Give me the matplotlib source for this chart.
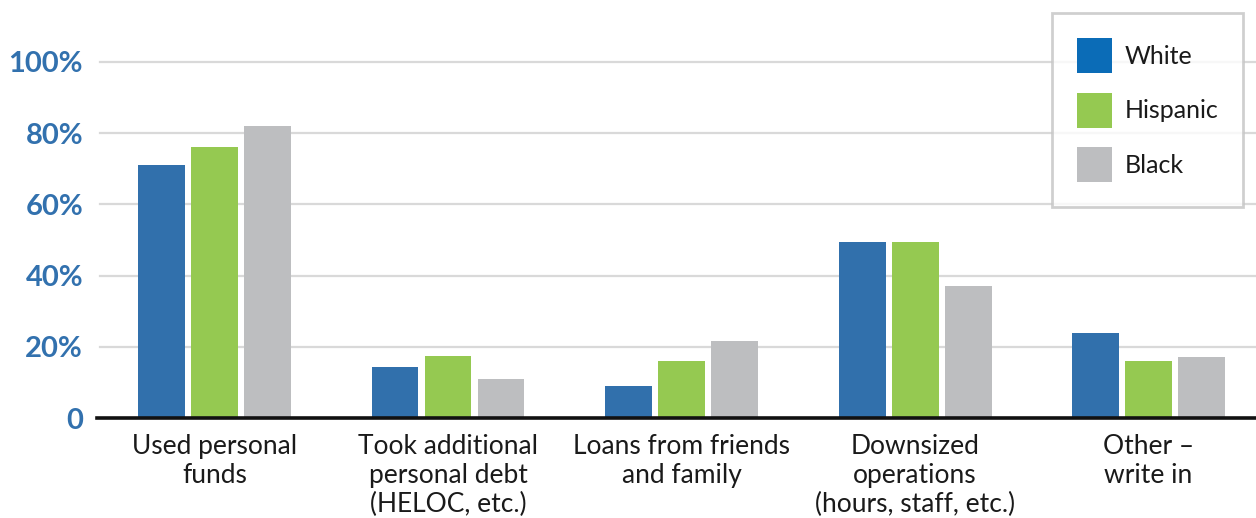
import matplotlib
matplotlib.use("Agg")
import matplotlib.pyplot as plt
from matplotlib.patches import Patch
import numpy as np

categories = [
    "Used personal\nfunds",
    "Took additional\npersonal debt\n(HELOC, etc.)",
    "Loans from friends\nand family",
    "Downsized\noperations\n(hours, staff, etc.)",
    "Other \u2013\nwrite in",
]
white = [71.0, 14.5, 9.1, 49.4, 23.9]
hispanic = [76.0, 17.6, 16.2, 49.4, 16.2]
black = [82.0, 11.1, 21.6, 37.2, 17.1]
series_names = ["White", "Hispanic", "Black"]
yticks = [0, 20, 40, 60, 80, 100]
ytick_labels = ["0", "20%", "40%", "60%", "80%", "100%"]

bar_colors = ["#3170ac", "#95c951", "#bdbec0"]
legend_colors = ["#0b6cb7", "#95c951", "#bdbec0"]
label_blue = "#3271ae"
text_color = "#1a1a1a"

plt.rcParams["font.family"] = ["Lato", "DejaVu Sans"]

fig = plt.figure(figsize=(12.56, 5.18), dpi=100)
W, H = 1256, 518
x0, x1 = 97, 1256
y0, y100 = 418.3, 61.7
ax = fig.add_axes([x0 / W, (H - y0) / H, (x1 - x0) / W, y0 / H])
ppu = (y0 - y100) / 100.0
ax.set_ylim(0, y0 / ppu)

x = np.arange(len(categories))
bw = 0.201
step = 0.227
for i, (vals, c) in enumerate(zip([white, hispanic, black], bar_colors)):
    ax.bar(x + (i - 1) * step, vals, width=bw, color=c, zorder=3)

ax.set_xlim(-0.503, 4.46)
ax.set_yticks(yticks)
ax.set_yticklabels(ytick_labels)
for lab in ax.get_yticklabels():
    lab.set_color(label_blue)
    lab.set_fontweight("bold")
    lab.set_fontsize(21)
ax.tick_params(axis="y", length=0, pad=10)
ax.set_xticks(x)
ax.set_xticklabels(categories, fontsize=19, fontweight="normal", color=text_color,
                   linespacing=1.22, va="top")
ax.tick_params(axis="x", length=0, pad=11)

for v in yticks[1:]:
    ax.axhline(v, color="#d9d9d9", lw=1.6, zorder=1, xmin=3 / (x1 - x0))
for s in ["top", "right", "left"]:
    ax.spines[s].set_visible(False)
ax.spines["bottom"].set_linewidth(2.6)
ax.spines["bottom"].set_color("#111111")
ax.spines["bottom"].set_zorder(4)

handles = [Patch(facecolor=c, edgecolor="none") for c in legend_colors]
leg = ax.legend(handles, series_names, loc="upper left",
                bbox_to_anchor=((1052 - x0) / (x1 - x0), 1 - 13 / y0),
                frameon=True, fancybox=False,
                prop={"family": ["Lato", "DejaVu Sans"], "weight": "normal", "size": 18},
                handlelength=1.4, handleheight=1.78, handletextpad=0.5,
                labelspacing=0.78, borderpad=1.0, borderaxespad=0)
leg.get_frame().set_edgecolor("#c4c4c4")
leg.get_frame().set_linewidth(2)
for t in leg.get_texts():
    t.set_color(text_color)

fig.savefig("out.png", dpi=100)
